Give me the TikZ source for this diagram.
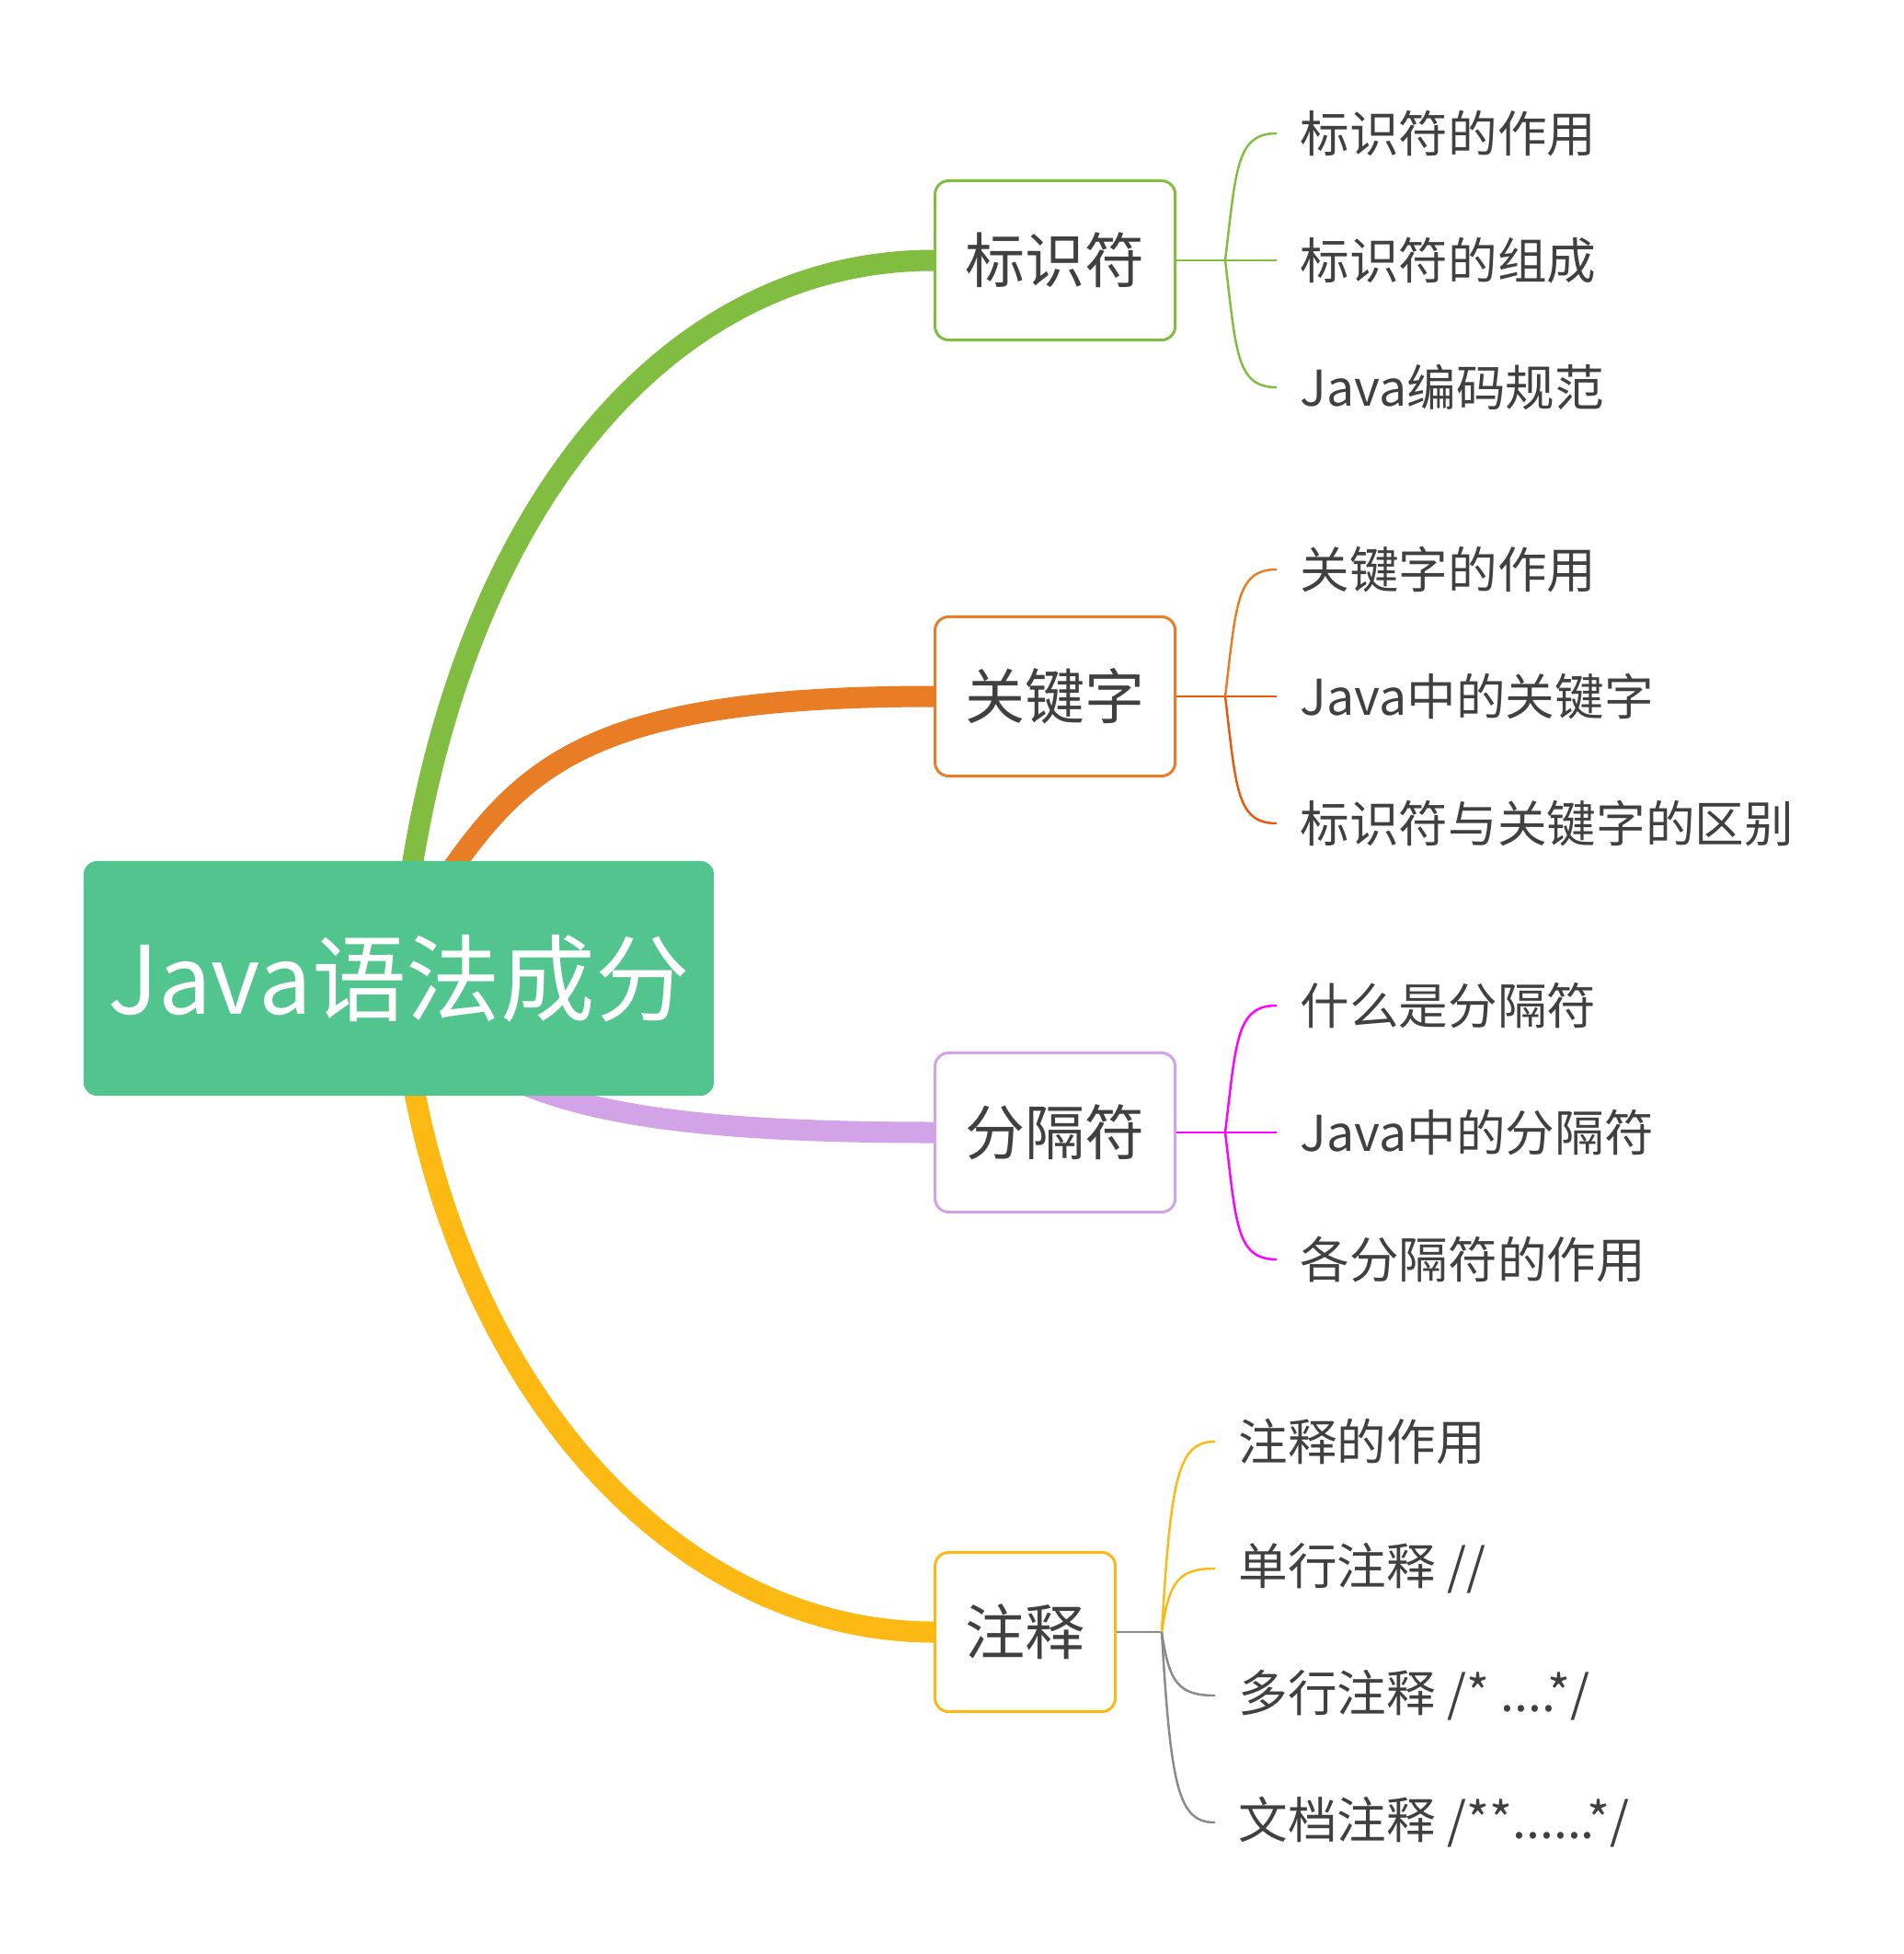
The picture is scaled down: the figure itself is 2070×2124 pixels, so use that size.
\documentclass[tikz,border=0pt]{standalone}
\usepackage{fontspec}
\setmainfont{Noto Sans CJK SC}
\usetikzlibrary{backgrounds, calc}
\definecolor{jvroot}{HTML}{52C48D}
\definecolor{jvgreen}{HTML}{80BD41}
\definecolor{jvorange}{HTML}{E87D25}
\definecolor{jvred}{HTML}{E5590C}
\definecolor{jvlilac}{HTML}{D3A3E8}
\definecolor{jvmagenta}{HTML}{FF00FF}
\definecolor{jvyellow}{HTML}{FCB813}
\definecolor{jvgrey}{HTML}{8A8A8A}
\definecolor{jvtext}{HTML}{404040}

\begin{document}
\begin{tikzpicture}[x=0.01cm, y=-0.01cm, line join=round,
    rootbox/.style={fill=jvroot, text=white, rounded corners=0.15cm,
      minimum width=6.85cm, minimum height=2.55cm, inner sep=0pt,
      font=\fontsize{29.2}{35}\selectfont},
    topic/.style={draw=#1, line width=0.85pt, fill=white, rounded corners=0.15cm,
      anchor=west, minimum height=1.73cm, inner xsep=0.33cm, text=jvtext,
      font=\fontsize{18.5}{22}\selectfont},
    leaf/.style={anchor=west, inner xsep=0.25cm, inner ysep=0pt, text=jvtext,
      font=\fontsize{15.25}{18}\selectfont},
    trunk/.style={draw=#1, line width=0.23cm},
    twig/.style={draw=#1, line width=0.7pt}]
  \useasboundingbox (0,0) rectangle (2070,2124);
  % central topic and its four branches
  \node[rootbox] (root) at (433.5,1063.5) {Java语法成分};
  \node[topic=jvgreen]  (ident) at (1015,283)  {标识符};
  \node[topic=jvorange] (kw)    at (1015,757)  {关键字};
  \node[topic=jvlilac]  (sep)   at (1015,1231) {分隔符};
  \node[topic=jvyellow] (cmt)   at (1015,1774) {注释};
  \begin{scope}[on background layer]
    \draw[trunk=jvgreen]  (root.center) .. controls (470,600) and (700,283) .. (ident.west);
    \draw[trunk=jvorange] ($(root)+(27,-73)$) .. controls (560,840) and (620,757) .. (kw.west);
    \draw[trunk=jvlilac]  ($(root)+(47,57)$) .. controls (560,1200) and (700,1231) .. (sep.west);
    \draw[trunk=jvyellow] (root.center) .. controls (468,1480) and (720,1774) .. (cmt.west);
  \end{scope}
  % (1) 标识符
  \coordinate (fident) at (1332,283);
  \node[leaf] (ident1) at (1388,145) {标识符的作用};
  \node[leaf] (ident2) at (1388,283) {标识符的组成};
  \node[leaf] (ident3) at (1388,421) {Java编码规范};
  \draw[twig=jvgreen] (ident.east) -- (fident) -- (ident2.west);
  \draw[twig=jvgreen] (fident) .. controls +(12,-100) and +(-44,0) .. (ident1.west);
  \draw[twig=jvgreen] (fident) .. controls +(12,100) and +(-44,0) .. (ident3.west);
  % (2) 关键字
  \coordinate (fkw) at (1332,757);
  \node[leaf] (kw1) at (1388,619) {关键字的作用};
  \node[leaf] (kw2) at (1388,757) {Java中的关键字};
  \node[leaf] (kw3) at (1388,895) {标识符与关键字的区别};
  \draw[twig=jvred] (kw.east) -- (fkw) -- (kw2.west);
  \draw[twig=jvorange] (fkw) .. controls +(12,-100) and +(-44,0) .. (kw1.west);
  \draw[twig=jvred] (fkw) .. controls +(12,100) and +(-44,0) .. (kw3.west);
  % (3) 分隔符
  \coordinate (fsep) at (1332,1231);
  \node[leaf] (sep1) at (1388,1093) {什么是分隔符};
  \node[leaf] (sep2) at (1388,1231) {Java中的分隔符};
  \node[leaf] (sep3) at (1388,1369) {各分隔符的作用};
  \draw[twig=jvmagenta] (sep.east) -- (fsep) -- (sep2.west);
  \draw[twig=jvmagenta] (fsep) .. controls +(12,-100) and +(-44,0) .. (sep1.west);
  \draw[twig=jvmagenta] (fsep) .. controls +(12,100) and +(-44,0) .. (sep3.west);
  % (4) 注释: the upper two twigs yellow, the lower two grey
  \coordinate (fcmt) at (1263,1774);
  \node[leaf] (cmt1) at (1321,1567) {注释的作用};
  \node[leaf] (cmt2) at (1321,1705) {单行注释 //};
  \node[leaf] (cmt3) at (1321,1843) {多行注释 /* ....*/};
  \node[leaf] (cmt4) at (1321,1981) {文档注释 /**......*/};
  \draw[twig=jvgrey] (cmt.east) -- (fcmt);
  \draw[twig=jvyellow] (fcmt) .. controls +(10,-170) and +(-40,0) .. (cmt1.west);
  \draw[twig=jvyellow] (fcmt) .. controls +(8,-55) and +(-40,0) .. (cmt2.west);
  \draw[twig=jvgrey] (fcmt) .. controls +(8,55) and +(-40,0) .. (cmt3.west);
  \draw[twig=jvgrey] (fcmt) .. controls +(10,170) and +(-40,0) .. (cmt4.west);
\end{tikzpicture}
\end{document}
